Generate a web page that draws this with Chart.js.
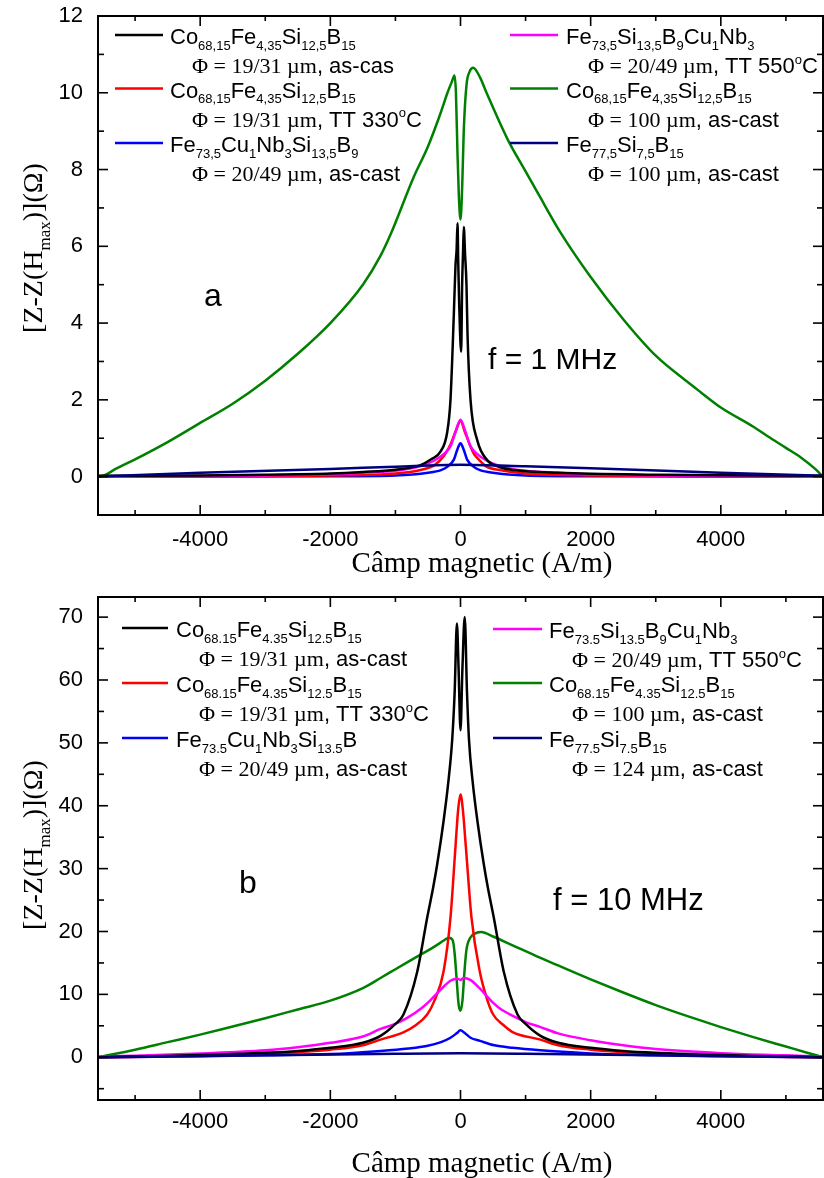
<!DOCTYPE html>
<html><head><meta charset="utf-8">
<script src="https://cdn.jsdelivr.net/npm/chart.js@4.4.0/dist/chart.umd.min.js"></script>
<style>
html,body{margin:0;padding:0;background:#fff;width:824px;height:1178px;overflow:hidden}
canvas{position:absolute;left:0}
#ca{top:0;width:824px;height:590px}
#cb{top:590px;width:824px;height:588px}
</style></head><body>
<canvas id="ca" width="824" height="590"></canvas>
<canvas id="cb" width="824" height="588"></canvas>
<script>
// ---------- tick labels ----------
const xTickVals = [-4000, -2000, 0, 2000, 4000];
const xMinorVals = [-5000, -3000, -1000, 1000, 3000, 5000];
const yTickValsA = [0, 2, 4, 6, 8, 10, 12];
const yMinorValsA = [1, 3, 5, 7, 9, 11];
const yTickValsB = [0, 10, 20, 30, 40, 50, 60, 70];
const yMinorValsB = [-5, 5, 15, 25, 35, 45, 55, 65];

// ---------- (a) f = 1 MHz ----------
const aBlackX = [-5570,-4000,-3000,-2000,-1500,-1000,-615,-450,-308,-205,-154,-103,-77,-60,-46,-35,-20,10,25,40,51,70,92,108,154,257,410,600,820,1500,3000,5570];
const aBlackY = [0.02,0.03,0.05,0.08,0.12,0.18,0.3,0.45,0.65,1.15,2.0,4.2,5.5,5.9,6.6,5.6,4.5,3.25,5.0,5.9,6.5,5.8,5.0,3.7,2.0,0.95,0.43,0.25,0.17,0.1,0.05,0.02];
const aRedX = [-5570,-3000,-2000,-1000,-600,-400,-250,-150,-70,0,70,150,200,250,400,600,1000,2000,5570];
const aRedY = [0,0.01,0.03,0.08,0.18,0.3,0.55,0.85,1.2,1.45,1.15,0.8,0.61,0.5,0.26,0.17,0.08,0.03,0];
const aBlueX = [-5570,-2000,-1000,-500,-300,-200,-100,-50,0,50,100,200,300,500,1000,2000,5570];
const aBlueY = [0,0.01,0.03,0.1,0.17,0.26,0.45,0.7,0.87,0.7,0.45,0.26,0.17,0.1,0.03,0.01,0];
const aMagX = [-5570,-3000,-2000,-1500,-1000,-600,-400,-250,-150,-80,0,80,150,250,400,600,1000,1500,2000,3000,5570];
const aMagY = [0,0.03,0.06,0.1,0.15,0.28,0.42,0.6,0.8,1.15,1.48,1.15,0.8,0.6,0.42,0.28,0.15,0.1,0.06,0.03,0];
const aGreenX = [-5570,-5450,-5300,-5000,-4500,-4000,-3500,-3000,-2500,-2000,-1500,-1230,-1077,-720,-500,-300,-200,-130,-92,-70,-46,-25,0,25,50,92,140,195,300,400,720,1000,1200,1540,2000,2500,3000,3500,3690,4000,4500,4720,5000,5230,5450,5570];
const aGreenY = [0,0.05,0.2,0.45,0.9,1.4,1.9,2.5,3.2,4.0,5.0,5.75,6.3,7.8,8.6,9.5,10.0,10.3,10.45,10.0,8.4,7.3,6.7,7.5,9.0,10.2,10.55,10.65,10.4,10.0,8.8,7.95,7.35,6.35,5.2,4.1,3.15,2.45,2.2,1.8,1.3,1.05,0.75,0.5,0.2,0];
const aNavyX = [-5570,-4000,-2000,-1000,0,1000,2000,4000,5570];
const aNavyY = [0,0.1,0.2,0.26,0.31,0.27,0.22,0.1,0.02];

// ---------- (b) f = 10 MHz ----------
const bBlackX = [-5570,-4500,-4000,-3500,-3000,-2500,-2000,-1500,-1229,-1000,-876,-665,-512,-420,-358,-261,-190,-127,-90,-55,-30,0,30,65,100,130,190,261,358,420,512,665,876,1000,1229,1500,2000,2500,3000,3500,4000,4500,5570];
const bBlackY = [0,0.2,0.35,0.5,0.7,1.0,1.5,2.3,3.4,5.3,6.8,13.6,22.2,27,30.7,37.5,43.5,50.6,58,69,62,52,62,70,58,50.6,43.5,37.5,30.7,27,22.2,13.6,6.8,5.3,3.4,2.3,1.5,1.0,0.7,0.5,0.35,0.2,0];
const bRedX = [-5570,-4000,-3000,-2500,-2000,-1500,-1229,-870,-700,-512,-400,-261,-154,-77,-35,0,35,82,169,297,400,502,650,800,1229,1500,2000,2500,3000,4000,5570];
const bRedY = [0,0.2,0.5,0.8,1.2,1.9,2.8,4.0,5.0,6.8,9.0,13.6,22.2,33.5,39.5,41.8,39.5,33.5,22.2,13.6,9.5,6.8,5.2,4.0,2.8,1.9,1.2,0.8,0.5,0.2,0];
const bBlueX = [-5570,-4000,-3000,-2000,-1229,-800,-520,-300,-154,-60,0,60,154,300,520,800,1229,2000,3000,4000,5570];
const bBlueY = [0,0.15,0.3,0.5,1.0,1.4,1.8,2.4,3.1,3.8,4.3,3.9,3.1,2.6,1.9,1.5,1.1,0.6,0.3,0.15,0];
const bMagX = [-5570,-5000,-4000,-3000,-2500,-2000,-1500,-1229,-1000,-820,-600,-460,-300,-150,-50,0,50,150,300,460,600,820,1000,1229,1500,2000,2500,3000,4000,5000,5570];
const bMagY = [0.1,0.25,0.6,1.1,1.6,2.3,3.3,4.5,5.3,6.25,7.8,9.1,10.8,12.2,12.5,12.3,12.6,12.3,10.9,9.1,7.8,6.5,5.6,4.8,3.8,2.7,1.9,1.3,0.65,0.3,0.1];
const bGreenX = [-5570,-5000,-4500,-4000,-3500,-3000,-2500,-2000,-1500,-1229,-1000,-700,-400,-250,-180,-120,-90,-60,-30,0,30,60,90,150,250,320,500,800,1229,1500,2000,2500,3000,3500,4000,4500,5000,5300,5570];
const bGreenY = [0,1.2,2.4,3.6,4.9,6.2,7.6,9.0,11.0,12.6,14.0,15.8,17.6,18.6,19.0,18.6,16.5,12.5,8.5,7.4,9.0,13.5,17.0,19.0,19.8,19.9,19.2,17.8,15.8,14.6,12.4,10.3,8.3,6.5,4.8,3.2,1.7,0.8,0];
const bNavyX = [-5570,-3000,-1000,0,1000,3000,5570];
const bNavyY = [0,0.3,0.55,0.62,0.55,0.3,0];

// ---------- legend texts ----------
const legNamesA = ['Co_{68,15}Fe_{4,35}Si_{12,5}B_{15}','Co_{68,15}Fe_{4,35}Si_{12,5}B_{15}','Fe_{73,5}Cu_{1}Nb_{3}Si_{13,5}B_{9}','Fe_{73,5}Si_{13,5}B_{9}Cu_{1}Nb_{3}','Co_{68,15}Fe_{4,35}Si_{12,5}B_{15}','Fe_{77,5}Si_{7,5}B_{15}'];
const legPhiA = ['Φ = 19/31 µm','Φ = 19/31 µm','Φ = 20/49 µm','Φ = 20/49 µm','Φ = 100 µm','Φ = 100 µm'];
const legNoteA = [', as-cas',', TT 330^{o}C',', as-cast',', TT 550^{o}C',', as-cast',', as-cast'];
const legNamesB = ['Co_{68.15}Fe_{4.35}Si_{12.5}B_{15}','Co_{68.15}Fe_{4.35}Si_{12.5}B_{15}','Fe_{73.5}Cu_{1}Nb_{3}Si_{13.5}B','Fe_{73.5}Si_{13.5}B_{9}Cu_{1}Nb_{3}','Co_{68.15}Fe_{4.35}Si_{12.5}B_{15}','Fe_{77.5}Si_{7.5}B_{15}'];
const legPhiB = ['Φ = 19/31 µm','Φ = 19/31 µm','Φ = 20/49 µm','Φ = 20/49 µm','Φ = 100 µm','Φ = 124 µm'];
const legNoteB = [', as-cast',', TT 330^{o}C',', as-cast',', TT 550^{o}C',', as-cast',', as-cast'];
const seriesColors = ['#000000','#ff0000','#0000ff','#ff00ff','#008000','#000080'];

const SANS = '"Liberation Sans", Arial, Helvetica, sans-serif';
const SERIF = '"Liberation Serif", "Times New Roman", Times, serif';

function parseRich(str){
  const out=[]; let i=0, buf='';
  while(i<str.length){
    if((str[i]==='_'||str[i]==='^') && str[i+1]==='{'){
      if(buf){out.push([buf,'n']);buf='';}
      const j=str.indexOf('}',i);
      out.push([str.slice(i+2,j), str[i]==='_'?'s':'p']);
      i=j+1;
    } else {buf+=str[i]; i++;}
  }
  if(buf) out.push([buf,'n']);
  return out;
}
function drawRich(ctx,x,y,segs,size,fam){
  let cx=x;
  for(const [t,k] of segs){
    let fs=size, dy=0;
    if(k==='s'){fs=Math.round(size*0.6); dy=size*0.27;}
    else if(k==='p'){fs=Math.round(size*0.6); dy=-size*0.42;}
    ctx.font=fs+'px '+fam;
    ctx.fillText(t,cx,y+dy);
    cx+=ctx.measureText(t).width;
  }
  return cx;
}
function richWidth(ctx,segs,size,fam){
  let w=0;
  for(const [t,k] of segs){
    const fs=(k==='n')?size:Math.round(size*0.6);
    ctx.font=fs+'px '+fam; w+=ctx.measureText(t).width;
  }
  return w;
}

const pts=(xs,ys)=>xs.map((x,i)=>({x:x,y:ys[i]}));

function mkDatasets(sets, names, phis, notes){
  const ds = sets.map((s,i)=>({
    label: names[i].replace(/[_^]\{([^}]*)\}/g,'$1')+' '+phis[i]+notes[i].replace(/[_^]\{([^}]*)\}/g,'$1'),
    data: pts(s[0],s[1]),
    borderColor: seriesColors[i], backgroundColor: seriesColors[i],
    borderWidth: 2.5, pointRadius: 0, showLine: true, fill: false,
    cubicInterpolationMode: 'monotone'
  }));
  const orderMap = {5:0, 0:1, 3:2, 1:3, 2:4, 4:5};
  ds.forEach((d,i)=>{d.order = orderMap[i];});
  return ds;
}

function framePlugin(yMajor, yMinor){
  return {id:'frame', afterDraw(chart){
    const {ctx, chartArea:a, scales:{x,y}} = chart;
    ctx.save();
    ctx.strokeStyle='#000'; ctx.lineWidth=2;
    ctx.strokeRect(a.left, a.top, a.right-a.left, a.bottom-a.top);
    ctx.lineWidth=1.6;
    const seg=(x1,y1,x2,y2)=>{ctx.beginPath();ctx.moveTo(x1,y1);ctx.lineTo(x2,y2);ctx.stroke();};
    for(const v of xTickVals){const p=x.getPixelForValue(v); seg(p,a.bottom,p,a.bottom-10); seg(p,a.top,p,a.top+10);}
    for(const v of xMinorVals){const p=x.getPixelForValue(v); seg(p,a.bottom,p,a.bottom-5); seg(p,a.top,p,a.top+5);}
    for(const v of yMajor){const p=y.getPixelForValue(v); seg(a.left,p,a.left+10,p); seg(a.right,p,a.right-10,p);}
    for(const v of yMinor){const p=y.getPixelForValue(v); seg(a.left,p,a.left+6,p); seg(a.right,p,a.right-6,p);}
    ctx.restore();
  }};
}

function textPlugin(cfg){
  return {id:'texts', afterDraw(chart){
    const ctx=chart.ctx;
    ctx.save(); ctx.fillStyle='#000'; ctx.textAlign='left'; ctx.textBaseline='alphabetic';
    cfg.legend.forEach((e,i)=>{
      ctx.strokeStyle=seriesColors[i]; ctx.lineWidth=2.5;
      ctx.beginPath(); ctx.moveTo(e.x1,e.y); ctx.lineTo(e.x2,e.y); ctx.stroke();
      drawRich(ctx,e.tx,e.y+9,parseRich(cfg.names[i]),22,SANS);
      const xe=drawRich(ctx,e.px,e.y+38,[[cfg.phis[i],'n']],22,SERIF);
      drawRich(ctx,xe,e.y+38,parseRich(cfg.notes[i]),22,SANS);
    });
    ctx.font='32px '+SANS; ctx.textAlign='center'; ctx.textBaseline='middle';
    ctx.fillText(cfg.letter[0],cfg.letter[1],cfg.letter[2]);
    ctx.textAlign='left'; ctx.textBaseline='alphabetic';
    ctx.font=cfg.freq[3]+'px '+SANS;
    ctx.fillText(cfg.freq[0],cfg.freq[1],cfg.freq[2]);
    ctx.font='29px '+SERIF; ctx.textAlign='center';
    ctx.fillText('Câmp magnetic (A/m)',cfg.xt[0],cfg.xt[1]);
    ctx.textAlign='left';
    const segs=parseRich('[Z-Z(H_{max})](Ω)');
    const w=richWidth(ctx,segs,28,SERIF);
    ctx.translate(cfg.yt[0],cfg.yt[1]); ctx.rotate(-Math.PI/2);
    drawRich(ctx,-w/2,10,segs,28,SERIF);
    ctx.restore();
  }};
}

function zeroPad(s){ s.paddingTop=0; s.paddingBottom=0; s.paddingLeft=0; s.paddingRight=0; }

function makeChart(id, sets, names, phis, notes, o){
  return new Chart(document.getElementById(id), {
    type:'scatter',
    data:{datasets: mkDatasets(sets,names,phis,notes)},
    options:{
      responsive:false, animation:false, devicePixelRatio:1,
      layout:{padding:{top:o.padTop,right:1,left:0,bottom:0}},
      plugins:{legend:{display:false}, tooltip:{enabled:false}},
      scales:{
        x:{type:'linear', min:-5570, max:5570,
           afterBuildTicks:s=>{s.ticks=xTickVals.map(v=>({value:v}));},
           afterFit:s=>{s.height=o.xh; zeroPad(s);},
           grid:{display:false, drawTicks:false}, border:{display:false},
           ticks:{color:'#000', font:{family:SANS,size:22}, padding:o.xpad, maxRotation:0, autoSkip:false, callback:v=>String(v)}},
        y:{type:'linear', min:o.ymin, max:o.ymax,
           afterBuildTicks:s=>{s.ticks=o.yt.map(v=>({value:v}));},
           afterFit:s=>{s.width=98; zeroPad(s);},
           grid:{display:false, drawTicks:false}, border:{display:false},
           ticks:{color:'#000', font:{family:SANS,size:22}, padding:15, autoSkip:false, callback:v=>String(v)}}
      }
    },
    plugins:[framePlugin(o.yt,o.ym), textPlugin(o.text)]
  });
}

const legPosA=[{x1:115,x2:163,tx:170,px:192,y:35},{x1:115,x2:163,tx:170,px:192,y:88.5},{x1:115,x2:163,tx:170,px:192,y:143},
               {x1:510,x2:558,tx:566,px:588,y:35},{x1:510,x2:558,tx:566,px:588,y:88.5},{x1:510,x2:558,tx:566,px:588,y:143}];
const legPosB=[{x1:122,x2:168,tx:176,px:199,y:38},{x1:122,x2:168,tx:176,px:199,y:93},{x1:122,x2:168,tx:176,px:199,y:148},
               {x1:493,x2:542,tx:549,px:572,y:39},{x1:493,x2:542,tx:549,px:572,y:93},{x1:493,x2:542,tx:549,px:572,y:148}];

makeChart('ca',
  [[aBlackX,aBlackY],[aRedX,aRedY],[aBlueX,aBlueY],[aMagX,aMagY],[aGreenX,aGreenY],[aNavyX,aNavyY]],
  legNamesA, legPhiA, legNoteA,
  {padTop:16, xh:75, xpad:12, ymin:-1, ymax:12, yt:yTickValsA, ym:yMinorValsA,
   text:{legend:legPosA, names:legNamesA, phis:legPhiA, notes:legNoteA,
         letter:['a',213,297], freq:['f = 1 MHz',488,369,30], xt:[482,572], yt:[32,248]}});

makeChart('cb',
  [[bBlackX,bBlackY],[bRedX,bRedY],[bBlueX,bBlueY],[bMagX,bMagY],[bGreenX,bGreenY],[bNavyX,bNavyY]],
  legNamesB, legPhiB, legNoteB,
  {padTop:7, xh:78, xpad:9, ymin:-6.8, ymax:73.2, yt:yTickValsB, ym:yMinorValsB,
   text:{legend:legPosB, names:legNamesB, phis:legPhiB, notes:legNoteB,
         letter:['b',248,294], freq:['f = 10 MHz',553,320,31], xt:[482,582], yt:[32,255]}});
</script>
</body></html>
